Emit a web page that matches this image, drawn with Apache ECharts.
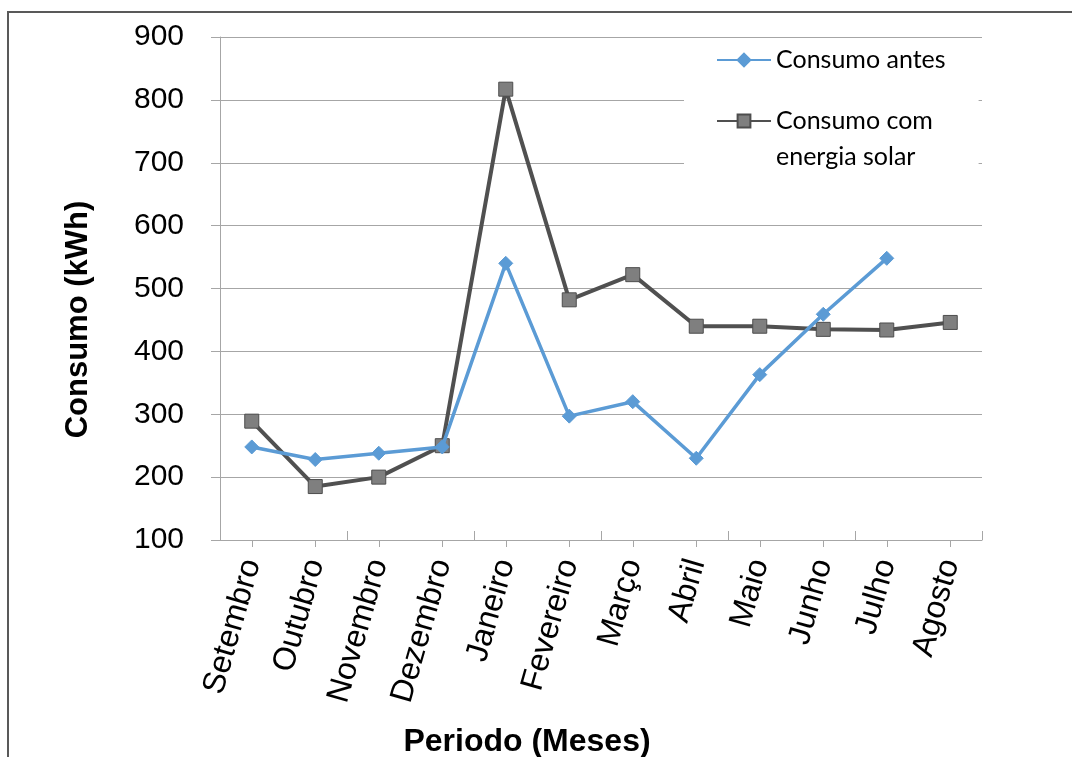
<!DOCTYPE html>
<html>
<head>
<meta charset="utf-8">
<script src="https://cdn.jsdelivr.net/npm/echarts@6/dist/echarts.min.js"></script>
<style>
html,body{margin:0;padding:0;background:#fff;}
#chart{width:1072px;height:757px;}
</style>
</head>
<body>
<div id="chart"></div>
<script>
const categories = ['Setembro','Outubro','Novembro','Dezembro','Janeiro','Fevereiro','Março','Abril','Maio','Junho','Julho','Agosto'];
const consumoAntes = [248, 228, 238, 248, 540, 297, 320, 230, 363, 459, 548, null];
const consumoSolar = [289, 185, 200, 250, 817, 482, 522, 440, 440, 435, 434, 446];
const yTicks = {min: 100, max: 900, interval: 100};
const seriesNames = ['Consumo antes', 'Consumo com\nenergia solar'];

const chart = echarts.init(document.getElementById('chart'), null, {renderer: 'canvas'});
const axisFont = 'Liberation Sans, Arial, sans-serif';
const gridCol = '#a6a6a6';

chart.setOption({
  animation: false,
  backgroundColor: '#fff',
  graphic: [{
    type: 'rect', shape: {x: 8, y: 12, width: 1200, height: 900},
    style: {fill: 'none', stroke: '#595959', lineWidth: 2}, z: 100, silent: true
  }],
  grid: {left: 220, right: 90, top: 37, bottom: 217, containLabel: false, outerBoundsMode: 'none'},
  legend: {
    orient: 'vertical', left: 684, top: 40,
    padding: [2, 33, 15, 32],
    backgroundColor: '#fff',
    itemWidth: 54, itemHeight: 16, itemGap: -11,
    textStyle: {fontFamily: 'Lato, Carlito, sans-serif', fontSize: 25, color: '#000', lineHeight: 36},
    formatter: function (name) { return name === seriesNames[1] ? ' \n' + name : name; },
    data: [seriesNames[0], seriesNames[1]]
  },
  xAxis: [{
    type: 'category', data: categories, boundaryGap: true, position: 'bottom',
    axisLine: {show: true, lineStyle: {color: gridCol, width: 1}},
    axisTick: {show: true, inside: true, length: 9, lineStyle: {color: gridCol}},
    axisLabel: {show: false},
    splitLine: {show: false}
  }, {
    type: 'category', data: categories, boundaryGap: true, position: 'bottom',
    axisLine: {show: false},
    axisTick: {show: true, alignWithLabel: true, length: 7, lineStyle: {color: gridCol}},
    axisLabel: {show: true, rotate: 74, interval: 0, margin: 20, fontFamily: axisFont, fontSize: 32, color: '#000'},
    name: 'Periodo (Meses)', nameLocation: 'middle', nameGap: 186,
    nameTextStyle: {fontFamily: axisFont, fontSize: 32, fontWeight: 'bold', color: '#000', padding: [0, 148, 0, 0]}
  }],
  yAxis: {
    type: 'value', min: yTicks.min, max: yTicks.max, interval: yTicks.interval,
    axisLine: {show: true, lineStyle: {color: gridCol, width: 1}},
    axisTick: {show: true, length: 9, lineStyle: {color: gridCol}},
    axisLabel: {margin: 36, fontFamily: axisFont, fontSize: 30, color: '#000'},
    splitLine: {show: true, lineStyle: {color: gridCol, width: 1}},
    name: 'Consumo (kWh)', nameLocation: 'middle', nameGap: 126, nameRotate: 90,
    nameTextStyle: {fontFamily: axisFont, fontSize: 31, fontWeight: 'bold', color: '#000', padding: [0, 62, 0, 0]}
  },
  series: [{
    name: seriesNames[0], type: 'line', data: consumoAntes, xAxisIndex: 0,
    symbol: 'diamond', symbolSize: 14, showAllSymbol: true,
    lineStyle: {color: '#5b9bd5', width: 3.5},
    itemStyle: {color: '#5b9bd5', borderColor: '#5b9bd5', borderWidth: 1},
    connectNulls: false, z: 3
  }, {
    name: seriesNames[1], type: 'line', data: consumoSolar, xAxisIndex: 0,
    symbol: 'rect', symbolSize: 14, showAllSymbol: true,
    lineStyle: {color: '#505050', width: 4},
    itemStyle: {color: '#7f7f7f', borderColor: '#4d4d4d', borderWidth: 1},
    z: 2
  }]
});
</script>
</body>
</html>
